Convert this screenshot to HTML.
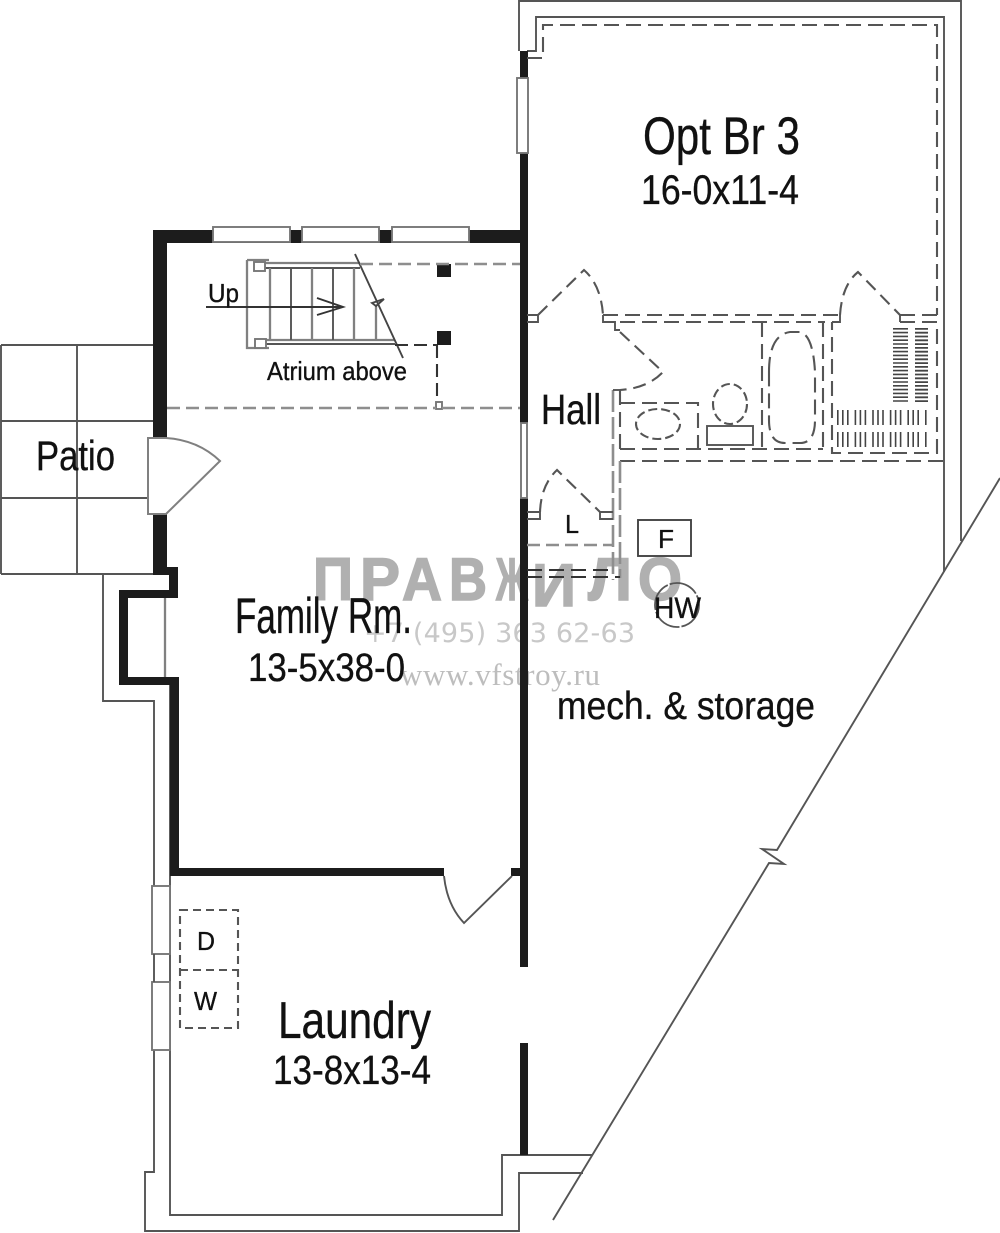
<!DOCTYPE html>
<html><head><meta charset="utf-8"><style>
html,body{margin:0;padding:0;background:#fff}
svg{display:block;filter:blur(.35px)}
text{font-family:"Liberation Sans",sans-serif;fill:#111;stroke:#111;stroke-width:.35px}
.s{fill:none;stroke:#555;stroke-width:1.9}
.g{fill:none;stroke:#808080;stroke-width:2.3}
.d{fill:none;stroke:#555;stroke-width:2.1;stroke-dasharray:15 7}
.dg{fill:none;stroke:#8e8e8e;stroke-width:2.6;stroke-dasharray:13 6}
.w{fill:#fff;stroke:#777;stroke-width:1.9}
text.wm{font-family:"Liberation Sans",sans-serif;font-weight:bold;fill:#b0b0b0;stroke:#b0b0b0;stroke-width:1.5px;font-size:60px}
text.wt{stroke:none}
.t{fill:none;stroke:#444}
</style></head><body>
<svg width="1000" height="1233" viewBox="0 0 1000 1233" xmlns="http://www.w3.org/2000/svg">
<rect width="1000" height="1233" fill="#fff"/>

<!-- watermark -->
<g>
<text class="wm" x="313" y="600" textLength="40" lengthAdjust="spacingAndGlyphs">П</text>
<text class="wm" x="360" y="600" textLength="40" lengthAdjust="spacingAndGlyphs">Р</text>
<text class="wm" x="402" y="600" textLength="40" lengthAdjust="spacingAndGlyphs">А</text>
<text class="wm" x="449" y="600" textLength="38" lengthAdjust="spacingAndGlyphs">В</text>
<text class="wm" x="496" y="600" textLength="32" lengthAdjust="spacingAndGlyphs">Ж</text>
<text class="wm" x="532" y="606" textLength="44" lengthAdjust="spacingAndGlyphs">И</text>
<text class="wm" x="588" y="600" textLength="44" lengthAdjust="spacingAndGlyphs">Л</text>
<text class="wm" x="638" y="600" textLength="44" lengthAdjust="spacingAndGlyphs">О</text>
<text class="wt" x="364" y="642" font-size="27" textLength="271" style="fill:#c8c8c8;font-family:'DejaVu Sans',sans-serif">+7 (495) 363 62-63</text>
<text class="wt" x="400" y="685" font-size="31" textLength="200" style="fill:#bdbdbd;font-family:'Liberation Serif',serif">www.vfstroy.ru</text>
</g>

<!-- patio -->
<path class="s" d="M1 345H153M1 421H153M1 498H148M1 574H153M1 345V574M77 345V574"/>

<!-- outer thin walls -->
<path class="s" d="M519 51V1H961V541"/>
<path class="s" d="M527 51H536V17H944V572"/>
<path class="s" d="M103 574V701H154V886"/>
<path class="s" d="M154 1050V1172H145V1231H519V1173H583"/>
<path class="s" d="M170 875V1215H502V1155H592"/>
<path class="s" d="M170 680V875"/>
<path class="g" d="M165 598V677"/>
<path class="d" d="M620 461H944"/>

<!-- diagonal -->
<path class="s" d="M1000 478L777 850L762 849L784 864L769 863L553 1220"/>

<!-- solid black walls -->
<g fill="#1c1c1c">
<rect x="153" y="230" width="367" height="13"/>
<rect x="153" y="230" width="14" height="208"/>
<rect x="153" y="514" width="14" height="60"/>
<rect x="153" y="567" width="25" height="8"/>
<rect x="169" y="567" width="9" height="31"/>
<rect x="119" y="590" width="59" height="8"/>
<rect x="119" y="590" width="9" height="95"/>
<rect x="119" y="677" width="59" height="8"/>
<rect x="170" y="677" width="9" height="198"/>
<rect x="170" y="868" width="274" height="8"/>
<rect x="511" y="868" width="10" height="8"/>
<rect x="520" y="51" width="8" height="372"/>
<rect x="520" y="498" width="8" height="469"/>
<rect x="520" y="1043" width="8" height="112"/>
<rect x="437" y="264" width="14" height="13"/>
<rect x="437" y="331" width="14" height="14"/>
</g>

<!-- windows -->
<rect class="w" x="213" y="227" width="77" height="15"/>
<rect class="w" x="302" y="227" width="77" height="15"/>
<rect class="w" x="392" y="227" width="77" height="15"/>
<rect class="w" x="517" y="78" width="11" height="75"/>
<rect class="w" x="521" y="423" width="6" height="75"/>
<rect class="w" x="152" y="886" width="18" height="68"/>
<rect class="w" x="152" y="982" width="18" height="68"/>
<path class="s" d="M154 954V982"/>

<!-- entry door -->
<path d="M148 438H166Q198 440 220 461L166 514H148Z" fill="#fff" stroke="#808080" stroke-width="2"/>

<!-- laundry door -->
<path class="s" d="M444 876Q447 905 464 923L512 876"/>

<!-- stairs -->
<path class="g" d="M247 260H269M247 260V348H269M265 263H360M265 340H395"/>
<path class="s" d="M265 268H360M265 344H395"/>
<rect class="w" x="254" y="262" width="11" height="9"/>
<rect class="w" x="255" y="339" width="11" height="9"/>
<path class="g" d="M270 268V340M312 268V340M354 268V340M376 305V340"/>
<path class="s" d="M291 268V340M333 268V340"/>
<path class="s" style="stroke:#333" d="M206 307H343M317 298L343 307L317 315"/>
<path class="s" style="stroke:#444" d="M355 254L403 358M372 303L384 299L376 306Z"/>
<path class="dg" d="M360 264H520"/>
<path class="d" style="stroke:#333;stroke-dasharray:13 6" d="M395 345H437M437 345V401"/>
<rect class="w" x="436" y="402" width="6" height="7"/>
<path class="dg" d="M167 408H436M442 408H520"/>

<!-- bedroom / bath dashed walls -->
<path class="d" d="M527 58H543V25H937V315"/>
<path class="d" d="M603 315H840"/>
<path class="d" d="M620 322H825"/>
<path class="d" d="M832 322H840M900 322H937V453H832V322"/>
<path class="d" d="M900 315H937"/>
<path class="d" d="M762 322V449M823 322V449M620 449H823"/>
<path class="d" d="M769 372Q769 335 790 332H800Q813 335 815 372V420Q815 443 800 443H785Q769 443 769 420Z"/>
<path class="d" d="M620 403H698V449M620 390V449"/>
<ellipse class="d" cx="658" cy="424" rx="22" ry="15" style="stroke-dasharray:9 4"/>
<ellipse class="d" cx="730" cy="404" rx="17" ry="20" style="stroke-dasharray:9 4"/>
<rect x="707" y="426" width="46" height="19" class="s"/>
<path class="dg" d="M613 390V580" style="stroke-dasharray:22 5"/>
<path class="dg" d="M620 461V578" style="stroke-dasharray:22 5"/>
<path class="s" d="M613 390H620"/>

<!-- interior doors -->
<path class="s" d="M527 315H538V322H527"/>
<path class="d" d="M538 315L584 270Q601 285 603 315" style="stroke-dasharray:13 7"/>
<path class="s" d="M603 315V322H615V330H620"/>
<path class="d" d="M620 332L663 372Q648 388 620 390" style="stroke-dasharray:13 7"/>
<path class="d" d="M840 315Q842 285 858 272L900 315" style="stroke-dasharray:13 7"/>
<path class="s" d="M840 315V322H832M900 315V322"/>
<path class="s" d="M527 512H540V519H527"/>
<path class="d" d="M540 512Q541 485 557 470L600 512" style="stroke-dasharray:13 7"/>
<path class="s" d="M600 512H613M600 512V519H613"/>
<path class="dg" d="M527 545H613"/>
<path class="d" d="M527 570H613M527 577H620" style="stroke:#333"/>

<!-- closet hangers -->
<g class="t">
<path d="M900.5 328V403" stroke-width="15" stroke-dasharray="1.6 2.2"/>
<path d="M921.5 328V403" stroke-width="13" stroke-dasharray="1.8 2"/>
<path d="M837 417.5H928" stroke-width="15" stroke-dasharray="1.6 3.4 1.6 3.4 1.6 6"/>
<path d="M837 439.5H928" stroke-width="15" stroke-dasharray="1.6 3.4 1.6 3.4 1.6 6"/>
</g>

<!-- F / HW -->
<rect x="638" y="520" width="53" height="36" fill="none" stroke="#444" stroke-width="1.9"/>
<circle cx="677" cy="605" r="22" fill="none" stroke="#555" stroke-width="1.8" stroke-dasharray="30 2"/>

<!-- D/W -->
<path class="d" style="stroke-dasharray:8 5" d="M180 910H238V1028H180ZM180 970H238"/>

<!-- labels -->
<text x="643" y="154" font-size="53" textLength="157" lengthAdjust="spacingAndGlyphs">Opt Br 3</text>
<text x="641" y="204" font-size="42" textLength="158" lengthAdjust="spacingAndGlyphs">16-0x11-4</text>
<text x="235" y="633" font-size="50" textLength="177" lengthAdjust="spacingAndGlyphs">Family Rm.</text>
<text x="248" y="681" font-size="40" textLength="157" lengthAdjust="spacingAndGlyphs">13-5x38-0</text>
<text x="541" y="424" font-size="43" textLength="60" lengthAdjust="spacingAndGlyphs">Hall</text>
<text x="36" y="470" font-size="42" textLength="79" lengthAdjust="spacingAndGlyphs">Patio</text>
<text x="557" y="719" font-size="39" textLength="258" lengthAdjust="spacingAndGlyphs">mech. &amp; storage</text>
<text x="278" y="1038" font-size="52" textLength="153" lengthAdjust="spacingAndGlyphs">Laundry</text>
<text x="273" y="1084" font-size="41" textLength="158" lengthAdjust="spacingAndGlyphs">13-8x13-4</text>
<text x="208" y="302" font-size="26" textLength="31" lengthAdjust="spacingAndGlyphs">Up</text>
<text x="267" y="380" font-size="26" textLength="140" lengthAdjust="spacingAndGlyphs">Atrium above</text>
<text x="197" y="950" font-size="26" textLength="18" lengthAdjust="spacingAndGlyphs">D</text>
<text x="194" y="1010" font-size="26" textLength="23" lengthAdjust="spacingAndGlyphs">W</text>
<text x="565" y="533" font-size="26" textLength="14" lengthAdjust="spacingAndGlyphs">L</text>
<text x="658" y="548" font-size="26" textLength="16" lengthAdjust="spacingAndGlyphs">F</text>
<text x="654" y="618" font-size="30" textLength="47" lengthAdjust="spacingAndGlyphs">HW</text>
</svg>
</body></html>
